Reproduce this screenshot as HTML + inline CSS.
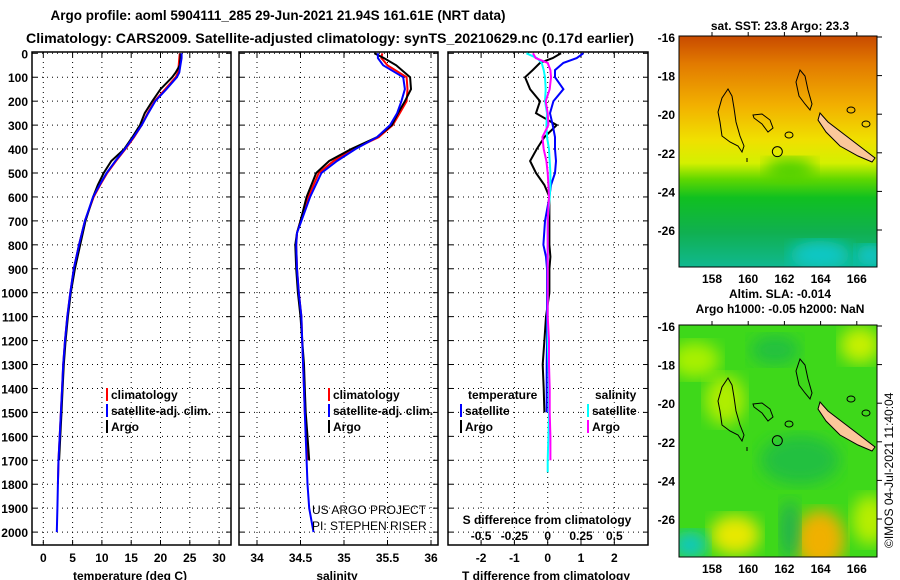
<!DOCTYPE html>
<html><head><meta charset="utf-8"><style>
html,body{margin:0;padding:0;background:#fff;}
svg{display:block;font-family:"Liberation Sans",sans-serif;}
</style></head><body>
<svg id="chart" width="900" height="580" viewBox="0 0 900 580" xmlns="http://www.w3.org/2000/svg">
<defs>
<linearGradient id="sstGrad" x1="0" y1="0" x2="0" y2="1">
<stop offset="0" stop-color="#c84a00"/><stop offset="0.12" stop-color="#e27a00"/><stop offset="0.3" stop-color="#f2b000"/><stop offset="0.45" stop-color="#f0e000"/><stop offset="0.55" stop-color="#d4f000"/><stop offset="0.62" stop-color="#60d800"/><stop offset="0.7" stop-color="#10c020"/><stop offset="0.85" stop-color="#10b050"/><stop offset="1" stop-color="#10b890"/>
</linearGradient>
<filter id="blur"><feGaussianBlur stdDeviation="8"/></filter>
<clipPath id="m1clip"><rect x="679" y="36" width="198" height="231"/></clipPath>
<clipPath id="m2clip"><rect x="679" y="325" width="198" height="232"/></clipPath>
</defs>
<text x="278" y="20" text-anchor="middle" font-size="14" font-weight="bold" textLength="455" lengthAdjust="spacingAndGlyphs">Argo profile: aoml 5904111_285 29-Jun-2021 21.94S 161.61E (NRT data)</text>
<text x="330" y="43" text-anchor="middle" font-size="14" font-weight="bold" textLength="608" lengthAdjust="spacingAndGlyphs">Climatology: CARS2009. Satellite-adjusted climatology: synTS_20210629.nc (0.17d earlier)</text>
<g id="panels"></g>
<g id="maps"></g>
</svg>
<script>
// ---------- data ----------
const depthTicks=[0,100,200,300,400,500,600,700,800,900,1000,1100,1200,1300,1400,1500,1600,1700,1800,1900,2000];
const tempTicks=[0,5,10,15,20,25,30];
const salTicks=[34,34.5,35,35.5,36];
const tdTicks=[-2,-1,0,1,2];
const sdTicks=[-0.5,-0.25,0,0.25,0.5];
const sdTickLabels=['-0.5','-0.25','0','0.25','0.5'];

const tempDepth=[0,20,50,80,100,150,200,250,300,350,400,450,500,550,600,700,800,900,1000,1100,1200,1300,1400,1500,1600,1700,1800,1900,2000];
const tempSat=[23.6,23.6,23.4,23.2,22.8,21.0,19.1,17.9,16.8,15.4,13.9,12.3,10.8,9.6,8.5,7.1,6.1,5.2,4.6,4.1,3.7,3.4,3.2,3.0,2.8,2.6,2.5,2.4,2.3];
const tempClim=[23.3,23.2,23.1,23.0,22.6,20.8,19.0,17.8,16.8,15.5,14.0,12.4,10.9,9.7,8.6,7.1,6.1,5.2,4.6,4.1,3.7,3.4,3.2,3.0,2.8,2.6,2.5];
const tempArgo=[23.4,23.4,23.3,22.6,22.0,20.0,18.6,17.3,16.5,15.2,13.8,11.6,10.3,9.3,8.5,7.2,6.3,5.4,4.7,4.2,3.8,3.5,3.3,3.1,2.9,2.7];

const salDepth=[0,20,50,100,150,200,250,300,350,400,450,500,600,700,750,800,900,1000,1100,1200,1300,1400,1500,1600,1700,1800,1900,2000];
const salSat=[35.39,35.39,35.45,35.68,35.70,35.66,35.61,35.53,35.38,35.13,34.92,34.74,34.61,34.51,34.46,34.45,34.46,34.48,34.51,34.52,34.53,34.54,34.55,34.56,34.57,34.58,34.60,34.65];
const salClim=[35.44,35.43,35.50,35.72,35.73,35.72,35.64,35.56,35.40,35.11,34.88,34.71,34.59,34.50,34.46,34.45,34.46,34.48,34.51,34.52,34.53,34.54,34.55,34.57,34.58];
const salArgo=[35.35,35.46,35.60,35.76,35.77,35.70,35.62,35.55,35.38,35.08,34.83,34.68,34.57,34.50,34.46,34.44,34.45,34.47,34.50,34.52,34.54,34.55,34.56,34.58,34.60];

const diffDepth=[0,20,40,70,100,150,200,250,300,350,400,450,500,550,600,700,800,850,900,1000,1100,1200,1300,1400,1500,1600,1700,1750];
const tdSat=[1.07,0.87,0.47,0.22,0.22,0.47,0.17,0.07,0.15,0.22,0.22,0.25,0.22,0.1,0.05,-0.08,-0.13,-0.05,-0.02,-0.02,-0.02,-0.02,-0.03,-0.03,-0.03];
const tdArgo=[0.4,0.15,-0.23,-0.45,-0.68,-0.53,-0.23,-0.35,0.27,-0.1,-0.33,-0.53,-0.35,-0.1,0.05,0.05,0.05,0.08,0.05,0.05,-0.05,-0.1,-0.15,-0.12,-0.1];
const sdSat=[-0.16,-0.08,-0.045,-0.03,-0.02,-0.015,-0.02,-0.005,-0.01,-0.005,0.01,0.015,0.02,0.02,0.015,0.0,0.0,0.0,0.0,0.0,0.0,0.0,0.005,0.01,0.01,0.005,0.0,0.0];
const sdArgo=[-0.11,-0.09,0.0,0.02,0.025,0.015,-0.015,0.0,0.005,-0.04,-0.03,-0.01,0.0,0.005,0.01,0.0,0.0,0.0,0.0,0.0,0.0,0.01,0.01,0.015,0.015,0.02,0.02];

const mapLonTicks=[158,160,162,164,166];
const mapLatTicks=[-16,-18,-20,-22,-24,-26];

// ---------- helpers ----------
const NS='http://www.w3.org/2000/svg';
const root=document.getElementById('panels');
function mk(tag,attrs,parent,txt){const e=document.createElementNS(NS,tag);for(const k in attrs)e.setAttribute(k,attrs[k]);if(txt!==undefined)e.textContent=txt;(parent||root).appendChild(e);return e;}
const Y0=53.3, PXM=0.2394;
const yD=d=>Y0+d*PXM;
const TOP=52, BOT=545;
const xT=t=>43.3+t*5.86;
const xS=s=>257+(s-34)*87;
const xTD=t=>547.7+t*33.3;
const xSD=s=>547.7+s*133.3;

function panel(name,x1,x2,vticks,xf){
  const g=mk('g',{});
  
  
  depthTicks.forEach(d=>{
    const l=mk('line',{x1:x1,x2:x2,y1:yD(d),y2:yD(d),stroke:'#000','stroke-width':1,'stroke-dasharray':'1,4'},g);
    
    
    mk('line',{x1:x1,x2:x1+5,y1:yD(d),y2:yD(d),stroke:'#000'},g);
    mk('line',{x1:x2-5,x2:x2,y1:yD(d),y2:yD(d),stroke:'#000'},g);
  });
  vticks.forEach(v=>{
    const l=mk('line',{x1:xf(v),x2:xf(v),y1:TOP,y2:BOT,stroke:'#000','stroke-width':1,'stroke-dasharray':'1,4'},g);
    
    
    mk('line',{x1:xf(v),x2:xf(v),y1:TOP,y2:TOP+5,stroke:'#000'},g);
    mk('line',{x1:xf(v),x2:xf(v),y1:BOT-5,y2:BOT,stroke:'#000'},g);
  });
  const r=mk('rect',{x:x1,y:TOP,width:x2-x1,height:BOT-TOP,fill:'none',stroke:'#000','stroke-width':1.5},g);
  
  
  return g;
}
function line(g,name,depths,vals,xf,color){
  const pts=vals.map((v,i)=>xf(v).toFixed(1)+','+yD(depths[i]).toFixed(1)).join(' ');
  const p=mk('polyline',{points:pts,fill:'none',stroke:color,'stroke-width':2},g);
  
  
}
function txt(x,y,s,opts,name,parent){
  const a=Object.assign({x:x,y:y,'font-size':12,'font-weight':'bold'},opts||{});
  const t=mk('text',a,parent,s);
  
  
  return t;
}
function legendEntry(g,x,y,color,label,name){
  const b=mk('rect',{x:x,y:y-11,width:2,height:13,fill:color},g);
  
  
  const t=txt(x+5,y,label,{'font-size':12},name,g);
  
}

// y-axis labels
depthTicks.forEach(d=>{txt(28,yD(d)+5,String(d),{'text-anchor':'end'},'y-tick-label');});

// panel 1: temperature
const p1=panel('temperature-panel',32,231,tempTicks,xT);
line(p1,'temp-climatology',tempDepth,tempClim,xT,'#f00');
line(p1,'temp-argo',tempDepth,tempArgo,xT,'#000');
line(p1,'temp-satellite-clim',tempDepth,tempSat,xT,'#00f');
tempTicks.forEach(v=>txt(xT(v),562,String(v),{'text-anchor':'middle'},'temp-x-tick'));
txt(130,580,'temperature (deg C)',{'text-anchor':'middle'},'temp-x-title');
legendEntry(p1,106,399,'#f00','climatology','legend-climatology');
legendEntry(p1,106,415,'#00f','satellite-adj. clim.','legend-satellite');
legendEntry(p1,106,431,'#000','Argo','legend-argo');

// panel 2: salinity
const p2=panel('salinity-panel',239,438,salTicks,xS);
line(p2,'sal-climatology',salDepth,salClim,xS,'#f00');
line(p2,'sal-argo',salDepth,salArgo,xS,'#000');
line(p2,'sal-satellite-clim',salDepth,salSat,xS,'#00f');
salTicks.forEach(v=>txt(xS(v),562,String(v),{'text-anchor':'middle'},'sal-x-tick'));
txt(337,580,'salinity',{'text-anchor':'middle'},'sal-x-title');
legendEntry(p2,328,399,'#f00','climatology','legend-climatology');
legendEntry(p2,328,415,'#00f','satellite-adj. clim.','legend-satellite');
legendEntry(p2,328,431,'#000','Argo','legend-argo');
txt(312,514,'US ARGO PROJECT',{'font-weight':'normal','font-size':12},'credit-project',p2);
txt(312,530,'PI: STEPHEN RISER',{'font-weight':'normal','font-size':12},'credit-pi',p2);

// panel 3: differences
const p3=panel('difference-panel',448,648,tdTicks,xTD);
line(p3,'tdiff-argo',diffDepth,tdArgo,xTD,'#000');
line(p3,'tdiff-satellite',diffDepth,tdSat,xTD,'#00f');
line(p3,'sdiff-satellite',diffDepth,sdSat,xSD,'#0ff');
line(p3,'sdiff-argo',diffDepth,sdArgo,xSD,'#f0f');
tdTicks.forEach(v=>txt(xTD(v),562,String(v),{'text-anchor':'middle'},'tdiff-x-tick'));
sdTicks.forEach((v,i)=>txt(xSD(v),540,sdTickLabels[i],{'text-anchor':'middle'},'sdiff-x-tick',p3));
txt(547,524,'S difference from climatology',{'text-anchor':'middle'},'sdiff-axis-title',p3);
txt(546,580,'T difference from climatology',{'text-anchor':'middle'},'tdiff-x-title');
txt(468,399,'temperature',{},'legend-temperature-header',p3);
txt(595,399,'salinity',{},'legend-salinity-header',p3);
legendEntry(p3,460,415,'#00f','satellite','legend-t-satellite');
legendEntry(p3,460,431,'#000','Argo','legend-t-argo');
legendEntry(p3,587,415,'#0ff','satellite','legend-s-satellite');
legendEntry(p3,587,431,'#f0f','Argo','legend-s-argo');

// ---------- maps ----------
const mg=document.getElementById('maps');
const lonX=l=>712+(l-158)*18.1;
function latY(lat,top){return top+1+(-16-lat)*19.3;}
function poly(g,pts,o,fill){
  return mk('polygon',{points:pts.map(p=>p[0]+','+(p[1]+o)).join(' '),fill:fill||'none',stroke:'#000','stroke-width':1},g);
}
function island(g,top,fillNC){
  const o=top-36;
  poly(g,[[728,89],[722,98],[718,112],[720,122],[722,136],[730,142],[738,146],[742,152],[744,146],[740,136],[736,122],[734,108],[732,96]],o);
  poly(g,[[800,70],[796,82],[799,96],[805,104],[810,110],[812,104],[808,90],[805,76]],o);
  poly(g,[[753,115],[762,114],[770,120],[773,128],[768,132],[762,124],[754,118]],o);
  poly(g,[[820,113],[828,122],[845,135],[862,148],[875,158],[872,162],[858,156],[840,146],[826,132],[818,120]],o,fillNC);
  mk('ellipse',{cx:789,cy:135+o,rx:4,ry:3,fill:'none',stroke:'#000'},g);
  mk('ellipse',{cx:851,cy:110+o,rx:4,ry:3,fill:'none',stroke:'#000'},g);
  mk('ellipse',{cx:866,cy:124+o,rx:4,ry:3,fill:'none',stroke:'#000'},g);
  mk('line',{x1:747,x2:747,y1:158+o,y2:162+o,stroke:'#000'},g);
  const c=mk('circle',{cx:lonX(161.61),cy:latY(-21.94,top),r:5,fill:'none',stroke:'#000'},g);
  
  
}
function mapFrame(g,top,h,name){
  const f=mk('rect',{x:679,y:top,width:198,height:h,fill:'none',stroke:'#000'},g);
  
  
  mapLatTicks.forEach(l=>{const y=latY(l,top);txt(675,y+5,String(l),{'text-anchor':'end'},name+'-lat-tick',g);mk('line',{x1:877,x2:882,y1:y,y2:y,stroke:'#000'},g);});
  mapLonTicks.forEach(l=>{const x=lonX(l);txt(x,top+h+16,String(l),{'text-anchor':'middle'},name+'-lon-tick',g);mk('line',{x1:x,x2:x,y1:top-4,y2:top,stroke:'#000'},g);});
}
// SST map
const m1=mk('g',{},mg);


const m1c=mk('g',{'clip-path':'url(#m1clip)'},m1);
mk('rect',{x:679,y:36,width:198,height:231,fill:'url(#sstGrad)'},m1c);
mk('ellipse',{cx:790,cy:170,rx:25,ry:12,fill:'#50d000',filter:'url(#blur)'},m1c);
mk('ellipse',{cx:820,cy:255,rx:30,ry:14,fill:'#10c8c8',filter:'url(#blur)'},m1c);
mk('ellipse',{cx:870,cy:255,rx:14,ry:10,fill:'#10c8d8',filter:'url(#blur)'},m1c);
island(m1c,36,'#fbc79a');
mapFrame(m1,36,231,'sst-map');
txt(780,30,'sat. SST: 23.8 Argo: 23.3',{'text-anchor':'middle'},'sst-map-title',m1);
txt(780,298,'Altim. SLA: -0.014',{'text-anchor':'middle'},'sla-label',m1);
txt(780,313,'Argo h1000: -0.05 h2000: NaN',{'text-anchor':'middle'},'sla-map-title',m1);
// SLA map
const m2=mk('g',{},mg);


const m2c=mk('g',{'clip-path':'url(#m2clip)'},m2);
mk('rect',{x:679,y:325,width:198,height:232,fill:'#3ed81a'},m2c);
[[695,360,25,18,'#a8f000'],[860,345,20,18,'#c8f000'],[725,400,20,25,'#b0ee00'],[800,460,40,25,'#20c040'],[775,350,25,15,'#20c040'],[735,535,25,20,'#e8e800'],[820,540,25,30,'#f0b000'],[690,545,18,14,'#10c8c0'],[870,520,18,25,'#b8ee00'],[790,530,10,30,'#20b050']].forEach(e=>{
  mk('ellipse',{cx:e[0],cy:e[1],rx:e[2],ry:e[3],fill:e[4],filter:'url(#blur)'},m2c);
});
island(m2c,325,'#fbc79a');
mapFrame(m2,325,232,'sla-map');
const cr=txt(893,548,'©IMOS 04-Jul-2021 11:40:04',{'font-weight':'normal','font-size':12,transform:'rotate(-90 893 548)'},'copyright',m2);
</script>
</body></html>
